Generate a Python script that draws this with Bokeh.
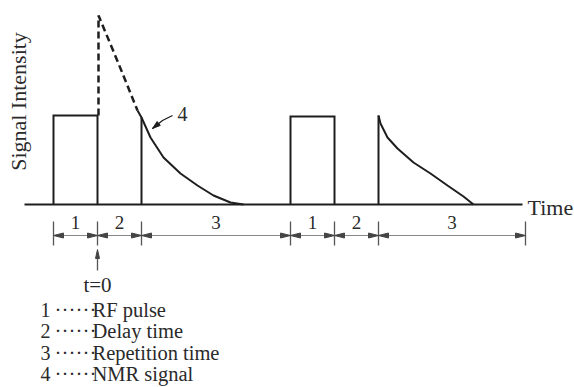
import numpy as np
from bokeh.plotting import figure
from bokeh.models import Range1d
from bokeh.embed import file_html
from bokeh.resources import INLINE
from bokeh.core.properties import value

# ---------------- data (time: arbitrary units, intensity: above baseline) ----------------
axis_start, axis_end = 24, 522

rf_start = [53, 290]
rf_end = [97, 334]
rf_height = [89, 88]

# NMR signal (free induction decay)
fid1_t = [137, 141, 150, 163, 180, 197, 213, 230, 243]
fid1_i = [94, 87, 67, 47, 31, 19, 9, 2, 0]
fid2_t = [378, 380, 387, 397, 413, 430, 447, 463, 473]
fid2_i = [89, 81, 67, 56, 42, 31, 19, 8, 0]
sig_start = [141, 378]
sig_height = [87, 89]

# dashed extrapolation of the signal back to t = 0
extrap_t = [98, 98, 118, 137]
extrap_i = [89, 189, 141, 94]

# timing segments
seg_bounds = [53, 97, 141, 290, 334, 378, 525]
seg_labels = ["1", "2", "3", "1", "2", "3"]

legend_nums = ["1", "2", "3", "4"]
legend_texts = ["RF pulse", "Delay time", "Repetition time", "NMR signal"]

FONT = value("Liberation Serif")
DARK = "#1e1e1e"
GREY = "#555555"
TXT = "#2a2a2a"

p = figure(width=574, height=387, output_backend="svg", toolbar_location=None,
           x_range=Range1d(0, 574), y_range=Range1d(-183, 204), min_border=0)
p.axis.visible = False
p.grid.visible = False
p.outline_line_color = None
p.background_fill_color = "white"
p.border_fill_color = "white"

# baseline (time axis)
p.line([axis_start, axis_end], [0, 0], line_color=DARK, line_width=2)
p.text(x=[axis_end + 5], y=[-3], text=["Time"], text_font=FONT, text_font_size="22px",
       text_align="left", text_baseline="middle", text_color=TXT)
p.text(x=[18], y=[103], text=["Signal Intensity"], text_font=FONT, text_font_size="22px",
       angle=np.pi / 2, text_align="center", text_baseline="middle", text_color=TXT)

# RF pulses
for s, e, h in zip(rf_start, rf_end, rf_height):
    p.line([s, s, e, e], [0, h, h, 0], line_color=DARK, line_width=2, line_join="miter")

# NMR signals
p.line(fid1_t, fid1_i, line_color=DARK, line_width=2)
p.line(fid2_t, fid2_i, line_color=DARK, line_width=2)
p.segment(x0=sig_start, y0=[0, 0], x1=sig_start, y1=sig_height, line_color=DARK, line_width=2)
p.line(extrap_t, extrap_i, line_color=DARK, line_width=2.5, line_dash="7 4")

# pointer for label 4
tip = np.array([152.0, 76.0])
tail = np.array([172.0, 89.0])
p.line([tip[0], 162, tail[0]], [tip[1], 84, tail[1]], line_color=DARK, line_width=1.3)
d = (tip - np.array([160.0, 82.5]))
d = d / np.hypot(*d)
n = np.array([-d[1], d[0]])
base = tip - d * 8
p.patch([tip[0], base[0] + n[0] * 2.5, base[0] - n[0] * 2.5],
        [tip[1], base[1] + n[1] * 2.5, base[1] - n[1] * 2.5], color=DARK)
p.text(x=[182], y=[91], text=["4"], text_font=FONT, text_font_size="20px",
       text_align="center", text_baseline="middle", text_color=TXT)

# timing dimension lines
dim_y = -31
p.segment(x0=seg_bounds, y0=[-17] * len(seg_bounds), x1=seg_bounds, y1=[-41] * len(seg_bounds),
          line_color=GREY, line_width=1.3)
xs, ys = [], []
for a, b in zip(seg_bounds[:-1], seg_bounds[1:]):
    xs += [[a, a + 10, a + 10], [b, b - 10, b - 10]]
    ys += [[dim_y, dim_y + 2.5, dim_y - 2.5], [dim_y, dim_y + 2.5, dim_y - 2.5]]
p.segment(x0=seg_bounds[:-1], y0=[dim_y] * 6, x1=seg_bounds[1:], y1=[dim_y] * 6,
          line_color="#888888", line_width=1)
p.patches(xs, ys, color="#444444")
mids = [(a + b) / 2 for a, b in zip(seg_bounds[:-1], seg_bounds[1:])]
p.text(x=mids, y=[-18] * 6, text=seg_labels, text_font=FONT, text_font_size="19px",
       text_align="center", text_baseline="middle", text_color=TXT)

# t = 0 marker
t0 = rf_end[0]
p.segment(x0=[t0], y0=[-66], x1=[t0], y1=[-50], line_color=GREY, line_width=1.3)
p.patch([t0, t0 - 2, t0 + 2], [-45, -54, -54], color="#444444")
p.text(x=[t0], y=[-80], text=["t=0"], text_font=FONT, text_font_size="21px",
       text_align="center", text_baseline="middle", text_color=TXT)

# legend
leg_y = [-105, -126.5, -148, -169.5]
p.text(x=[40] * 4, y=leg_y, text=legend_nums, text_font=FONT, text_font_size="20px",
       text_align="left", text_baseline="middle", text_color=TXT)
p.text(x=[54] * 4, y=leg_y, text=["\u00b7\u00b7\u00b7\u00b7\u00b7\u00b7"] * 4, text_font=FONT,
       text_font_size="21px", text_align="left", text_baseline="middle", text_color=TXT)
p.text(x=[92] * 4, y=leg_y, text=legend_texts, text_font=FONT, text_font_size="20.5px",
       text_align="left", text_baseline="middle", text_color=TXT)

open("out.html", "w").write(file_html(p, INLINE))
